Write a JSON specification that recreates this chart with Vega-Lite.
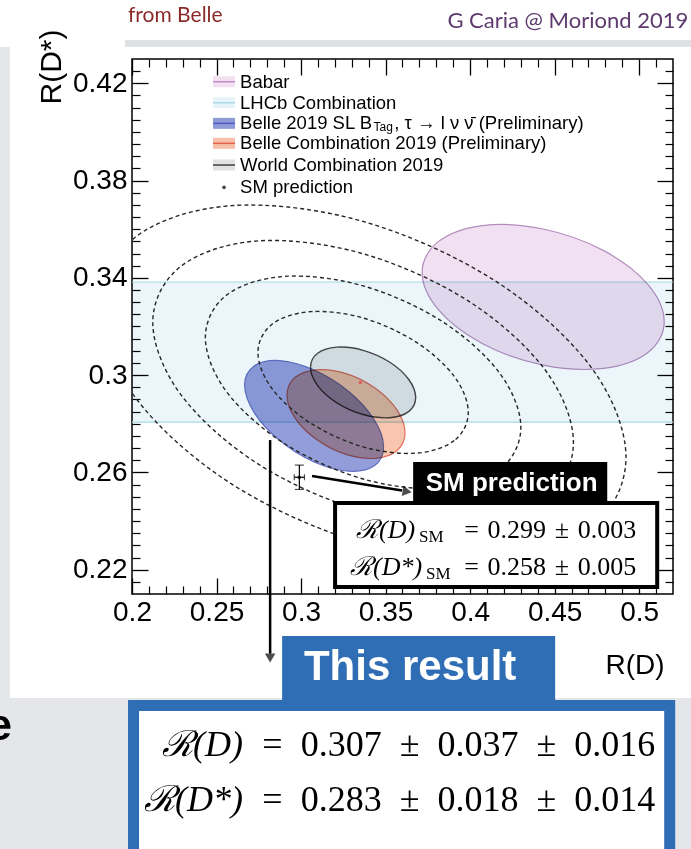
{
"$schema":"https://vega.github.io/schema/vega-lite/v6.json",
"width":541,"height":535,"autosize":"none",
"padding":{"left":132,"top":59,"right":18,"bottom":255},
"background":"#ffffff",
"config":{"view":{"stroke":"#000000","strokeWidth":1.5}},
"data":{"values":[{}]},
"datasets":{
"ell":[
{"s":"Babar","i":0,"x":0.5148,"y":0.3219},{"s":"Babar","i":1,"x":0.5052,"y":0.3093},{"s":"Babar","i":2,"x":0.479,"y":0.3028},{"s":"Babar","i":3,"x":0.4432,"y":0.3041},{"s":"Babar","i":4,"x":0.4074,"y":0.3129},{"s":"Babar","i":5,"x":0.3812,"y":0.3269},{"s":"Babar","i":6,"x":0.3716,"y":0.3423},{"s":"Babar","i":7,"x":0.3812,"y":0.3549},{"s":"Babar","i":8,"x":0.4074,"y":0.3615},{"s":"Babar","i":9,"x":0.4432,"y":0.3601},{"s":"Babar","i":10,"x":0.479,"y":0.3512},{"s":"Babar","i":11,"x":0.5052,"y":0.3372},
{"s":"Belle2019","i":0,"x":0.3488,"y":0.2705},{"s":"Belle2019","i":1,"x":0.3433,"y":0.2627},{"s":"Belle2019","i":2,"x":0.3283,"y":0.2605},{"s":"Belle2019","i":3,"x":0.3077,"y":0.2643},{"s":"Belle2019","i":4,"x":0.2872,"y":0.2732},{"s":"Belle2019","i":5,"x":0.2721,"y":0.2848},{"s":"Belle2019","i":6,"x":0.2666,"y":0.296},{"s":"Belle2019","i":7,"x":0.2721,"y":0.3037},{"s":"Belle2019","i":8,"x":0.2872,"y":0.306},{"s":"Belle2019","i":9,"x":0.3077,"y":0.3021},{"s":"Belle2019","i":10,"x":0.3283,"y":0.2932},{"s":"Belle2019","i":11,"x":0.3433,"y":0.2816},
{"s":"BelleComb","i":0,"x":0.3615,"y":0.2763},{"s":"BelleComb","i":1,"x":0.3568,"y":0.269},{"s":"BelleComb","i":2,"x":0.3441,"y":0.2658},{"s":"BelleComb","i":3,"x":0.3266,"y":0.2674},{"s":"BelleComb","i":4,"x":0.3092,"y":0.2735},{"s":"BelleComb","i":5,"x":0.2964,"y":0.2824},{"s":"BelleComb","i":6,"x":0.2917,"y":0.2917},{"s":"BelleComb","i":7,"x":0.2964,"y":0.299},{"s":"BelleComb","i":8,"x":0.3092,"y":0.3022},{"s":"BelleComb","i":9,"x":0.3266,"y":0.3006},{"s":"BelleComb","i":10,"x":0.3441,"y":0.2945},{"s":"BelleComb","i":11,"x":0.3568,"y":0.2856},
{"s":"World","i":0,"x":0.3678,"y":0.2908},{"s":"World","i":1,"x":0.3636,"y":0.285},{"s":"World","i":2,"x":0.3523,"y":0.2825},{"s":"World","i":3,"x":0.3367,"y":0.2838},{"s":"World","i":4,"x":0.3212,"y":0.2886},{"s":"World","i":5,"x":0.3098,"y":0.2957},{"s":"World","i":6,"x":0.3056,"y":0.3032},{"s":"World","i":7,"x":0.3098,"y":0.309},{"s":"World","i":8,"x":0.3212,"y":0.3115},{"s":"World","i":9,"x":0.3367,"y":0.3102},{"s":"World","i":10,"x":0.3523,"y":0.3054},{"s":"World","i":11,"x":0.3636,"y":0.2983}
],
"cont":[
{"s":"c2","i":0,"x":0.3989,"y":0.2847},{"s":"c2","i":1,"x":0.3906,"y":0.2731},{"s":"c2","i":2,"x":0.3678,"y":0.2679},{"s":"c2","i":3,"x":0.3367,"y":0.2705},{"s":"c2","i":4,"x":0.3056,"y":0.2803},{"s":"c2","i":5,"x":0.2828,"y":0.2945},{"s":"c2","i":6,"x":0.2745,"y":0.3093},{"s":"c2","i":7,"x":0.2828,"y":0.3209},{"s":"c2","i":8,"x":0.3056,"y":0.3261},{"s":"c2","i":9,"x":0.3367,"y":0.3235},{"s":"c2","i":10,"x":0.3678,"y":0.3137},{"s":"c2","i":11,"x":0.3906,"y":0.2995},
{"s":"c3","i":0,"x":0.43,"y":0.2785},{"s":"c3","i":1,"x":0.4175,"y":0.2611},{"s":"c3","i":2,"x":0.3834,"y":0.2534},{"s":"c3","i":3,"x":0.3367,"y":0.2573},{"s":"c3","i":4,"x":0.2901,"y":0.2719},{"s":"c3","i":5,"x":0.2559,"y":0.2932},{"s":"c3","i":6,"x":0.2434,"y":0.3155},{"s":"c3","i":7,"x":0.2559,"y":0.3329},{"s":"c3","i":8,"x":0.2901,"y":0.3406},{"s":"c3","i":9,"x":0.3367,"y":0.3367},{"s":"c3","i":10,"x":0.3834,"y":0.3221},{"s":"c3","i":11,"x":0.4175,"y":0.3008},
{"s":"c4","i":0,"x":0.4611,"y":0.2723},{"s":"c4","i":1,"x":0.4444,"y":0.2492},{"s":"c4","i":2,"x":0.3989,"y":0.2388},{"s":"c4","i":3,"x":0.3367,"y":0.2441},{"s":"c4","i":4,"x":0.2745,"y":0.2635},{"s":"c4","i":5,"x":0.229,"y":0.2919},{"s":"c4","i":6,"x":0.2123,"y":0.3217},{"s":"c4","i":7,"x":0.229,"y":0.3448},{"s":"c4","i":8,"x":0.2745,"y":0.3552},{"s":"c4","i":9,"x":0.3367,"y":0.3499},{"s":"c4","i":10,"x":0.3989,"y":0.3305},{"s":"c4","i":11,"x":0.4444,"y":0.3021},
{"s":"c5","i":0,"x":0.4922,"y":0.2662},{"s":"c5","i":1,"x":0.4714,"y":0.2372},{"s":"c5","i":2,"x":0.4145,"y":0.2243},{"s":"c5","i":3,"x":0.3367,"y":0.2309},{"s":"c5","i":4,"x":0.259,"y":0.2552},{"s":"c5","i":5,"x":0.2021,"y":0.2907},{"s":"c5","i":6,"x":0.1812,"y":0.3279},{"s":"c5","i":7,"x":0.2021,"y":0.3568},{"s":"c5","i":8,"x":0.259,"y":0.3697},{"s":"c5","i":9,"x":0.3367,"y":0.3632},{"s":"c5","i":10,"x":0.4145,"y":0.3389},{"s":"c5","i":11,"x":0.4714,"y":0.3034}
],
"lhcb":[{"lo":0.2807,"hi":0.3383}],
"sm":[{"rd":0.299,"rds":0.258,"rdlo":0.296,"rdhi":0.302,"rdslo":0.253,"rdshi":0.263}],
"leg":[
{"s":"Babar","ly":0.42065,"t":"Babar"},
{"s":"LHCb","ly":0.41201,"t":"LHCb Combination"},
{"s":"Belle2019","ly":0.40354,"t":"Belle 2019 SL B"},
{"s":"BelleComb","ly":0.39532,"t":"Belle Combination 2019 (Preliminary)"},
{"s":"World","ly":0.3864,"t":"World Combination 2019"},
{"s":"SM","ly":0.37723,"t":"SM prediction"}
]
},
"resolve":{"axis":{"x":"independent","y":"independent"}},
"layer":[
{"mark":{"type":"rect","color":"#e4e6ea"},"encoding":{"x":{"datum":0.12189,"type":"quantitative","scale":{"domain":[0.2,0.52],"nice":false,"zero":false},"axis":null},"x2":{"datum":0.12781},"y":{"datum":0.43492,"type":"quantitative","scale":{"domain":[0.21,0.43],"nice":false,"zero":false},"axis":null},"y2":{"datum":0.10515}}},
{"mark":{"type":"rect","color":"#dfe1e5"},"encoding":{"x":{"datum":0.19586,"type":"quantitative","scale":{"domain":[0.2,0.52],"nice":false,"zero":false},"axis":null},"x2":{"datum":0.53077},"y":{"datum":0.4378,"type":"quantitative","scale":{"domain":[0.21,0.43],"nice":false,"zero":false},"axis":null},"y2":{"datum":0.43492}}},
{"mark":{"type":"rect","color":"#e4e6ea"},"encoding":{"x":{"datum":0.12189,"type":"quantitative","scale":{"domain":[0.2,0.52],"nice":false,"zero":false},"axis":null},"x2":{"datum":0.53077},"y":{"datum":0.16724,"type":"quantitative","scale":{"domain":[0.21,0.43],"nice":false,"zero":false},"axis":null},"y2":{"datum":0.10515}}},
{"data":{"name":"lhcb"},"mark":{"type":"rect","color":"#ecf6fa","blend":"multiply"},"encoding":{"y":{"field":"lo","type":"quantitative","scale":{"domain":[0.21,0.43],"nice":false,"zero":false},"axis":{"orient":"left","values":[0.22,0.26,0.3,0.34,0.38,0.42],"format":"~g","ticks":false,"domain":false,"grid":false,"labelFont":"Liberation Sans","labelFontSize":28,"labelColor":"#000","labelPadding":5,"labelOverlap":false,"labelBound":false,"labelFlush":false,"title":"R(D*)","titleFont":"Liberation Sans","titleFontSize":30,"titleFontWeight":"normal","titleColor":"#000","titleAngle":-90,"titleAlign":"right","titleBaseline":"alphabetic","titleAnchor":"end","titleX":-72,"titleY":-30,"zindex":0}},"y2":{"field":"hi"}}},
{"data":{"name":"lhcb"},"mark":{"type":"rule","color":"#a6d8e6","strokeWidth":1.2},"encoding":{"y":{"field":"lo","type":"quantitative","scale":{"domain":[0.21,0.43],"nice":false,"zero":false},"axis":{"orient":"left","values":[0.22,0.26,0.3,0.34,0.38,0.42],"labels":false,"ticks":true,"tickSize":-16,"tickWidth":1.3,"tickColor":"#000","domain":false,"grid":false,"title":null,"zindex":0}}}},
{"data":{"name":"lhcb"},"mark":{"type":"rule","color":"#a6d8e6","strokeWidth":1.2},"encoding":{"y":{"field":"hi","type":"quantitative","scale":{"domain":[0.21,0.43],"nice":false,"zero":false},"axis":{"orient":"left","values":[0.215,0.225,0.23,0.235,0.24,0.245,0.25,0.255,0.265,0.27,0.275,0.28,0.285,0.29,0.295,0.305,0.31,0.315,0.32,0.325,0.33,0.335,0.345,0.35,0.355,0.36,0.365,0.37,0.375,0.385,0.39,0.395,0.4,0.405,0.41,0.415,0.425],"labels":false,"ticks":true,"tickSize":-8,"tickWidth":1.2,"tickColor":"#000","domain":false,"grid":false,"title":null,"zindex":0}}}},
{"data":{"name":"ell"},"transform":[{"filter":"datum.s === 'Babar'"}],"mark":{"type":"line","interpolate":"cardinal-closed","fill":"#f1e0f1","stroke":"#b48dbd","strokeWidth":1.2,"blend":"multiply"},"encoding":{"x":{"field":"x","type":"quantitative","scale":{"domain":[0.2,0.52],"nice":false,"zero":false},"axis":{"orient":"bottom","values":[0.2,0.25,0.3,0.35,0.4,0.45,0.5],"format":"~g","ticks":false,"domain":false,"grid":false,"labelFont":"Liberation Sans","labelFontSize":28,"labelColor":"#000","labelPadding":4,"labelFlush":false,"labelOverlap":false,"labelBound":false,"title":"R(D)","titleFont":"Liberation Sans","titleFontSize":28,"titleFontWeight":"normal","titleColor":"#000","titleAlign":"right","titleBaseline":"middle","titleAnchor":"end","titleX":532,"titleY":71,"zindex":0}},"y":{"field":"y","type":"quantitative","scale":{"domain":[0.21,0.43],"nice":false,"zero":false},"axis":{"orient":"right","values":[0.22,0.26,0.3,0.34,0.38,0.42],"labels":false,"ticks":true,"tickSize":-16,"tickWidth":1.3,"tickColor":"#000","domain":false,"grid":false,"title":null,"zindex":0}},"order":{"field":"i","type":"quantitative"}}},
{"data":{"name":"ell"},"transform":[{"filter":"datum.s === 'Belle2019'"}],"mark":{"type":"line","interpolate":"cardinal-closed","fill":"#929dda","stroke":"#6270c2","strokeWidth":1.2,"blend":"multiply"},"encoding":{"x":{"field":"x","type":"quantitative","scale":{"domain":[0.2,0.52],"nice":false,"zero":false},"axis":{"orient":"bottom","values":[0.2,0.25,0.3,0.35,0.4,0.45,0.5],"labels":false,"ticks":true,"tickSize":-16,"tickWidth":1.3,"tickColor":"#000","domain":false,"grid":false,"title":null,"zindex":0}},"y":{"field":"y","type":"quantitative","scale":{"domain":[0.21,0.43],"nice":false,"zero":false},"axis":{"orient":"right","values":[0.215,0.225,0.23,0.235,0.24,0.245,0.25,0.255,0.265,0.27,0.275,0.28,0.285,0.29,0.295,0.305,0.31,0.315,0.32,0.325,0.33,0.335,0.345,0.35,0.355,0.36,0.365,0.37,0.375,0.385,0.39,0.395,0.4,0.405,0.41,0.415,0.425],"labels":false,"ticks":true,"tickSize":-8,"tickWidth":1.2,"tickColor":"#000","domain":false,"grid":false,"title":null,"zindex":0}},"order":{"field":"i","type":"quantitative"}}},
{"data":{"name":"ell"},"transform":[{"filter":"datum.s === 'BelleComb'"}],"mark":{"type":"line","interpolate":"cardinal-closed","fill":"#f8c6ae","stroke":"#e2705a","strokeWidth":1.2,"blend":"multiply"},"encoding":{"x":{"field":"x","type":"quantitative","scale":{"domain":[0.2,0.52],"nice":false,"zero":false},"axis":{"orient":"bottom","values":[0.21,0.22,0.23,0.24,0.26,0.27,0.28,0.29,0.31,0.32,0.33,0.34,0.36,0.37,0.38,0.39,0.41,0.42,0.43,0.44,0.46,0.47,0.48,0.49,0.51],"labels":false,"ticks":true,"tickSize":-8,"tickWidth":1.2,"tickColor":"#000","domain":false,"grid":false,"title":null,"zindex":0}},"y":{"field":"y","type":"quantitative","scale":{"domain":[0.21,0.43],"nice":false,"zero":false},"axis":null},"order":{"field":"i","type":"quantitative"}}},
{"data":{"name":"ell"},"transform":[{"filter":"datum.s === 'World'"}],"mark":{"type":"line","interpolate":"cardinal-closed","fill":"#e0e3e6","stroke":"#484848","strokeWidth":1.4,"blend":"multiply"},"encoding":{"x":{"field":"x","type":"quantitative","scale":{"domain":[0.2,0.52],"nice":false,"zero":false},"axis":{"orient":"top","values":[0.2,0.25,0.3,0.35,0.4,0.45,0.5],"labels":false,"ticks":true,"tickSize":-16,"tickWidth":1.3,"tickColor":"#000","domain":false,"grid":false,"title":null,"zindex":0}},"y":{"field":"y","type":"quantitative","scale":{"domain":[0.21,0.43],"nice":false,"zero":false},"axis":null},"order":{"field":"i","type":"quantitative"}}},
{"mark":{"type":"point","shape":"circle","filled":true,"size":10,"color":"#e03a3a"},"encoding":{"x":{"datum":0.335,"type":"quantitative","scale":{"domain":[0.2,0.52],"nice":false,"zero":false},"axis":null},"y":{"datum":0.297,"type":"quantitative","scale":{"domain":[0.21,0.43],"nice":false,"zero":false},"axis":null}}},
{"data":{"name":"cont"},"mark":{"type":"line","interpolate":"cardinal-closed","stroke":"#262626","strokeWidth":1.4,"strokeDash":[4,3],"clip":true},"encoding":{"x":{"field":"x","type":"quantitative","scale":{"domain":[0.2,0.52],"nice":false,"zero":false},"axis":{"orient":"top","values":[0.21,0.22,0.23,0.24,0.26,0.27,0.28,0.29,0.31,0.32,0.33,0.34,0.36,0.37,0.38,0.39,0.41,0.42,0.43,0.44,0.46,0.47,0.48,0.49,0.51],"labels":false,"ticks":true,"tickSize":-8,"tickWidth":1.2,"tickColor":"#000","domain":false,"grid":false,"title":null,"zindex":0}},"y":{"field":"y","type":"quantitative","scale":{"domain":[0.21,0.43],"nice":false,"zero":false},"axis":null},"detail":{"field":"s"},"order":{"field":"i","type":"quantitative"}}},
{"data":{"name":"sm"},"mark":{"type":"rule","color":"#000","strokeWidth":1.2},"encoding":{"x":{"field":"rdlo","type":"quantitative","scale":{"domain":[0.2,0.52],"nice":false,"zero":false},"axis":null},"x2":{"field":"rdhi"},"y":{"field":"rds","type":"quantitative","scale":{"domain":[0.21,0.43],"nice":false,"zero":false},"axis":null}}},
{"data":{"name":"sm"},"mark":{"type":"rule","color":"#000","strokeWidth":1.2},"encoding":{"x":{"field":"rd","type":"quantitative","scale":{"domain":[0.2,0.52],"nice":false,"zero":false},"axis":null},"y":{"field":"rdslo","type":"quantitative","scale":{"domain":[0.21,0.43],"nice":false,"zero":false},"axis":null},"y2":{"field":"rdshi"}}},
{"data":{"name":"sm"},"mark":{"type":"tick","orient":"horizontal","color":"#000","size":9,"thickness":1.2},"encoding":{"x":{"field":"rd","type":"quantitative","scale":{"domain":[0.2,0.52],"nice":false,"zero":false},"axis":null},"y":{"field":"rdslo","type":"quantitative","scale":{"domain":[0.21,0.43],"nice":false,"zero":false},"axis":null}}},
{"data":{"name":"sm"},"mark":{"type":"tick","orient":"horizontal","color":"#000","size":9,"thickness":1.2},"encoding":{"x":{"field":"rd","type":"quantitative","scale":{"domain":[0.2,0.52],"nice":false,"zero":false},"axis":null},"y":{"field":"rdshi","type":"quantitative","scale":{"domain":[0.21,0.43],"nice":false,"zero":false},"axis":null}}},
{"data":{"name":"sm"},"mark":{"type":"tick","orient":"vertical","color":"#000","size":6,"thickness":1.2},"encoding":{"x":{"field":"rdlo","type":"quantitative","scale":{"domain":[0.2,0.52],"nice":false,"zero":false},"axis":null},"y":{"field":"rds","type":"quantitative","scale":{"domain":[0.21,0.43],"nice":false,"zero":false},"axis":null}}},
{"data":{"name":"sm"},"mark":{"type":"tick","orient":"vertical","color":"#000","size":6,"thickness":1.2},"encoding":{"x":{"field":"rdhi","type":"quantitative","scale":{"domain":[0.2,0.52],"nice":false,"zero":false},"axis":null},"y":{"field":"rds","type":"quantitative","scale":{"domain":[0.21,0.43],"nice":false,"zero":false},"axis":null}}},
{"data":{"name":"sm"},"mark":{"type":"point","shape":"circle","filled":true,"size":14,"color":"#000"},"encoding":{"x":{"field":"rd","type":"quantitative","scale":{"domain":[0.2,0.52],"nice":false,"zero":false},"axis":null},"y":{"field":"rds","type":"quantitative","scale":{"domain":[0.21,0.43],"nice":false,"zero":false},"axis":null}}},
{"data":{"name":"leg"},"transform":[{"filter":"datum.s !== 'SM'"}],"mark":{"type":"tick","orient":"horizontal","size":22,"thickness":11,"opacity":1},"encoding":{"x":{"datum":0.25444,"type":"quantitative","scale":{"domain":[0.2,0.52],"nice":false,"zero":false},"axis":null},"y":{"field":"ly","type":"quantitative","scale":{"domain":[0.21,0.43],"nice":false,"zero":false},"axis":null},"fill":{"field":"s","type":"nominal","scale":{"domain":["Babar","LHCb","Belle2019","BelleComb","World"],"range":["#f3e0f1","#e6f4f9","#8f9ad8","#f6c0a8","#e2e2e2"]},"legend":null}}},
{"data":{"name":"leg"},"transform":[{"filter":"datum.s !== 'SM'"}],"mark":{"type":"tick","orient":"horizontal","size":22,"thickness":1.5,"opacity":1},"encoding":{"x":{"datum":0.25444,"type":"quantitative","scale":{"domain":[0.2,0.52],"nice":false,"zero":false},"axis":null},"y":{"field":"ly","type":"quantitative","scale":{"domain":[0.21,0.43],"nice":false,"zero":false},"axis":null},"color":{"field":"s","type":"nominal","scale":{"domain":["Babar","LHCb","Belle2019","BelleComb","World"],"range":["#c48cc8","#a8dae6","#4f5fc0","#e0644c","#404040"]},"legend":null}}},
{"data":{"name":"leg"},"mark":{"type":"text","align":"left","baseline":"middle","font":"Liberation Sans","fontSize":18.5,"color":"#000"},"encoding":{"x":{"datum":0.26391,"type":"quantitative","scale":{"domain":[0.2,0.52],"nice":false,"zero":false},"axis":null},"y":{"field":"ly","type":"quantitative","scale":{"domain":[0.21,0.43],"nice":false,"zero":false},"axis":null},"text":{"field":"t"}}},
{"mark":{"type":"text","text":"Tag","align":"left","baseline":"middle","font":"Liberation Sans","fontSize":12,"color":"#000"},"encoding":{"x":{"datum":0.3429,"type":"quantitative","scale":{"domain":[0.2,0.52],"nice":false,"zero":false},"axis":null},"y":{"datum":0.40185,"type":"quantitative","scale":{"domain":[0.21,0.43],"nice":false,"zero":false},"axis":null}}},
{"mark":{"type":"text","text":", τ → l ν ν̄ (Preliminary)","align":"left","baseline":"middle","font":"Liberation Sans","fontSize":18.5,"color":"#000"},"encoding":{"x":{"datum":0.35515,"type":"quantitative","scale":{"domain":[0.2,0.52],"nice":false,"zero":false},"axis":null},"y":{"datum":0.40354,"type":"quantitative","scale":{"domain":[0.21,0.43],"nice":false,"zero":false},"axis":null}}},
{"mark":{"type":"point","shape":"circle","filled":true,"size":14,"color":"#000"},"encoding":{"x":{"datum":0.25444,"type":"quantitative","scale":{"domain":[0.2,0.52],"nice":false,"zero":false},"axis":null},"y":{"datum":0.37723,"type":"quantitative","scale":{"domain":[0.21,0.43],"nice":false,"zero":false},"axis":null}}},
{"mark":{"type":"rule","color":"#000","strokeWidth":2.5},"encoding":{"x":{"datum":0.3065,"type":"quantitative","scale":{"domain":[0.2,0.52],"nice":false,"zero":false},"axis":null},"x2":{"datum":0.35976},"y":{"datum":0.2585,"type":"quantitative","scale":{"domain":[0.21,0.43],"nice":false,"zero":false},"axis":null},"y2":{"datum":0.25256}}},
{"mark":{"type":"point","shape":"triangle-right","filled":true,"size":110,"angle":9,"color":"#000"},"encoding":{"x":{"datum":0.36272,"type":"quantitative","scale":{"domain":[0.2,0.52],"nice":false,"zero":false},"axis":null},"y":{"datum":0.25215,"type":"quantitative","scale":{"domain":[0.21,0.43],"nice":false,"zero":false},"axis":null}}},
{"mark":{"type":"rule","color":"#000","strokeWidth":2.5},"encoding":{"x":{"datum":0.2817,"type":"quantitative","scale":{"domain":[0.2,0.52],"nice":false,"zero":false},"axis":null},"y":{"datum":0.2733,"type":"quantitative","scale":{"domain":[0.21,0.43],"nice":false,"zero":false},"axis":null},"y2":{"datum":0.1855}}},
{"mark":{"type":"point","shape":"triangle-down","filled":true,"size":110,"color":"#000"},"encoding":{"x":{"datum":0.2817,"type":"quantitative","scale":{"domain":[0.2,0.52],"nice":false,"zero":false},"axis":null},"y":{"datum":0.18368,"type":"quantitative","scale":{"domain":[0.21,0.43],"nice":false,"zero":false},"axis":null}}},
{"mark":{"type":"rect","fill":"#ffffff","stroke":"#000000","strokeWidth":4},"encoding":{"x":{"datum":0.32012,"type":"quantitative","scale":{"domain":[0.2,0.52],"nice":false,"zero":false},"axis":null},"x2":{"datum":0.51065},"y":{"datum":0.24742,"type":"quantitative","scale":{"domain":[0.21,0.43],"nice":false,"zero":false},"axis":null},"y2":{"datum":0.21288}}},
{"mark":{"type":"rect","color":"#000000"},"encoding":{"x":{"datum":0.3663,"type":"quantitative","scale":{"domain":[0.2,0.52],"nice":false,"zero":false},"axis":null},"x2":{"datum":0.4811},"y":{"datum":0.26428,"type":"quantitative","scale":{"domain":[0.21,0.43],"nice":false,"zero":false},"axis":null},"y2":{"datum":0.24783}}},
{"mark":{"type":"text","text":"SM prediction","align":"center","baseline":"middle","font":"Liberation Sans","fontSize":26,"fontWeight":"bold","color":"#ffffff"},"encoding":{"x":{"datum":0.42456,"type":"quantitative","scale":{"domain":[0.2,0.52],"nice":false,"zero":false},"axis":null},"y":{"datum":0.25564,"type":"quantitative","scale":{"domain":[0.21,0.43],"nice":false,"zero":false},"axis":null}}},
{"mark":{"type":"text","text":"ℛ(D)","align":"right","baseline":"middle","font":"Liberation Serif","fontStyle":"italic","fontSize":26,"color":"#000"},"encoding":{"x":{"datum":0.36746,"type":"quantitative","scale":{"domain":[0.2,0.52],"nice":false,"zero":false},"axis":null},"y":{"datum":0.23632,"type":"quantitative","scale":{"domain":[0.21,0.43],"nice":false,"zero":false},"axis":null}}},
{"mark":{"type":"text","text":"SM","align":"left","baseline":"middle","font":"Liberation Serif","fontSize":17,"color":"#000"},"encoding":{"x":{"datum":0.36982,"type":"quantitative","scale":{"domain":[0.2,0.52],"nice":false,"zero":false},"axis":null},"y":{"datum":0.23344,"type":"quantitative","scale":{"domain":[0.21,0.43],"nice":false,"zero":false},"axis":null}}},
{"mark":{"type":"text","text":"=\u20040.299\u2004±\u20040.003","align":"right","baseline":"middle","font":"Liberation Serif","fontSize":26,"color":"#000"},"encoding":{"x":{"datum":0.49822,"type":"quantitative","scale":{"domain":[0.2,0.52],"nice":false,"zero":false},"axis":null},"y":{"datum":0.23632,"type":"quantitative","scale":{"domain":[0.21,0.43],"nice":false,"zero":false},"axis":null}}},
{"mark":{"type":"text","text":"ℛ(D*)","align":"right","baseline":"middle","font":"Liberation Serif","fontStyle":"italic","fontSize":26,"color":"#000"},"encoding":{"x":{"datum":0.3716,"type":"quantitative","scale":{"domain":[0.2,0.52],"nice":false,"zero":false},"axis":null},"y":{"datum":0.2211,"type":"quantitative","scale":{"domain":[0.21,0.43],"nice":false,"zero":false},"axis":null}}},
{"mark":{"type":"text","text":"SM","align":"left","baseline":"middle","font":"Liberation Serif","fontSize":17,"color":"#000"},"encoding":{"x":{"datum":0.37396,"type":"quantitative","scale":{"domain":[0.2,0.52],"nice":false,"zero":false},"axis":null},"y":{"datum":0.21822,"type":"quantitative","scale":{"domain":[0.21,0.43],"nice":false,"zero":false},"axis":null}}},
{"mark":{"type":"text","text":"=\u20040.258\u2004±\u20040.005","align":"right","baseline":"middle","font":"Liberation Serif","fontSize":26,"color":"#000"},"encoding":{"x":{"datum":0.49822,"type":"quantitative","scale":{"domain":[0.2,0.52],"nice":false,"zero":false},"axis":null},"y":{"datum":0.2211,"type":"quantitative","scale":{"domain":[0.21,0.43],"nice":false,"zero":false},"axis":null}}},
{"mark":{"type":"rect","color":"#2f6db5"},"encoding":{"x":{"datum":0.2888,"type":"quantitative","scale":{"domain":[0.2,0.52],"nice":false,"zero":false},"axis":null},"x2":{"datum":0.4503},"y":{"datum":0.19273,"type":"quantitative","scale":{"domain":[0.21,0.43],"nice":false,"zero":false},"axis":null},"y2":{"datum":0.16415}}},
{"mark":{"type":"text","text":"This result","align":"center","baseline":"middle","font":"Liberation Sans","fontSize":42,"fontWeight":"bold","color":"#ffffff"},"encoding":{"x":{"datum":0.3645,"type":"quantitative","scale":{"domain":[0.2,0.52],"nice":false,"zero":false},"axis":null},"y":{"datum":0.18,"type":"quantitative","scale":{"domain":[0.21,0.43],"nice":false,"zero":false},"axis":null}}},
{"mark":{"type":"rect","fill":"#ffffff","stroke":"#2f6db5","strokeWidth":11},"encoding":{"x":{"datum":0.2009,"type":"quantitative","scale":{"domain":[0.2,0.52],"nice":false,"zero":false},"axis":null},"x2":{"datum":0.51805},"y":{"datum":0.16415,"type":"quantitative","scale":{"domain":[0.21,0.43],"nice":false,"zero":false},"axis":null},"y2":{"datum":0.10063}}},
{"mark":{"type":"text","text":"ℛ(D)","align":"right","baseline":"middle","font":"Liberation Serif","fontStyle":"italic","fontSize":36,"color":"#000"},"encoding":{"x":{"datum":0.26568,"type":"quantitative","scale":{"domain":[0.2,0.52],"nice":false,"zero":false},"axis":null},"y":{"datum":0.14791,"type":"quantitative","scale":{"domain":[0.21,0.43],"nice":false,"zero":false},"axis":null}}},
{"mark":{"type":"text","text":"=\u20020.307\u2002±\u20020.037\u2002±\u20020.016","align":"right","baseline":"middle","font":"Liberation Serif","fontSize":36,"color":"#000"},"encoding":{"x":{"datum":0.50946,"type":"quantitative","scale":{"domain":[0.2,0.52],"nice":false,"zero":false},"axis":null},"y":{"datum":0.14791,"type":"quantitative","scale":{"domain":[0.21,0.43],"nice":false,"zero":false},"axis":null}}},
{"mark":{"type":"text","text":"ℛ(D*)","align":"right","baseline":"middle","font":"Liberation Serif","fontStyle":"italic","fontSize":36,"color":"#000"},"encoding":{"x":{"datum":0.26568,"type":"quantitative","scale":{"domain":[0.2,0.52],"nice":false,"zero":false},"axis":null},"y":{"datum":0.1253,"type":"quantitative","scale":{"domain":[0.21,0.43],"nice":false,"zero":false},"axis":null}}},
{"mark":{"type":"text","text":"=\u20020.283\u2002±\u20020.018\u2002±\u20020.014","align":"right","baseline":"middle","font":"Liberation Serif","fontSize":36,"color":"#000"},"encoding":{"x":{"datum":0.50946,"type":"quantitative","scale":{"domain":[0.2,0.52],"nice":false,"zero":false},"axis":null},"y":{"datum":0.1253,"type":"quantitative","scale":{"domain":[0.21,0.43],"nice":false,"zero":false},"axis":null}}},
{"mark":{"type":"text","text":"e","align":"right","baseline":"middle","font":"Liberation Sans","fontSize":44,"fontWeight":"bold","color":"#000"},"encoding":{"x":{"datum":0.12899,"type":"quantitative","scale":{"domain":[0.2,0.52],"nice":false,"zero":false},"axis":null},"y":{"datum":0.15531,"type":"quantitative","scale":{"domain":[0.21,0.43],"nice":false,"zero":false},"axis":null}}},
{"mark":{"type":"text","text":"from Belle","align":"left","baseline":"middle","font":"Lato","fontSize":21,"color":"#8b2a2a"},"encoding":{"x":{"datum":0.19763,"type":"quantitative","scale":{"domain":[0.2,0.52],"nice":false,"zero":false},"axis":null},"y":{"datum":0.44766,"type":"quantitative","scale":{"domain":[0.21,0.43],"nice":false,"zero":false},"axis":null}}},
{"mark":{"type":"text","text":"G Caria @ Moriond 2019","align":"right","baseline":"middle","font":"Lato","fontSize":22,"color":"#5e3a6e"},"encoding":{"x":{"datum":0.52899,"type":"quantitative","scale":{"domain":[0.2,0.52],"nice":false,"zero":false},"axis":null},"y":{"datum":0.44561,"type":"quantitative","scale":{"domain":[0.21,0.43],"nice":false,"zero":false},"axis":null}}}
]
}
